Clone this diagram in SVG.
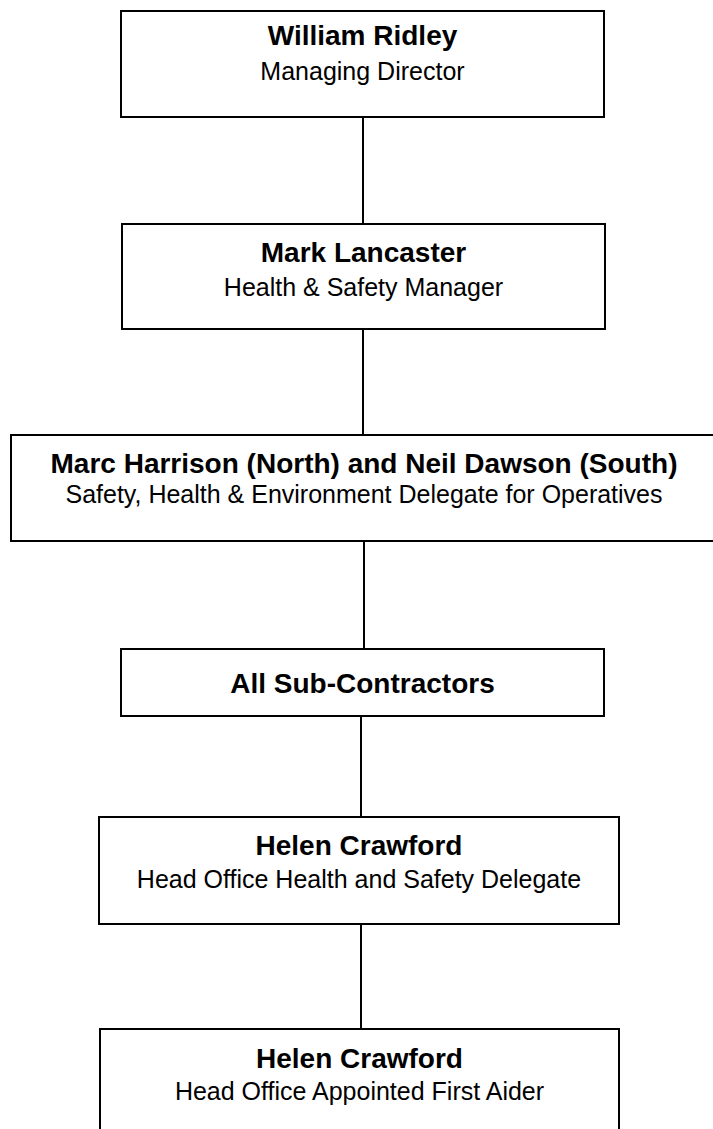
<svg xmlns="http://www.w3.org/2000/svg" width="713" height="1129" viewBox="0 0 713 1129">
<style>
.box{fill:#fff;stroke:#000;stroke-width:2}
.t{font-family:"Liberation Sans",Arial,sans-serif;font-weight:bold;font-size:28px;text-anchor:middle;fill:#000}
.s{font-family:"Liberation Sans",Arial,sans-serif;font-size:25px;text-anchor:middle;fill:#000}
.c{stroke:#000;stroke-width:2;fill:none}
</style>
<rect width="713" height="1129" fill="#fff"/>
<g id="connectors">
<line class="c" x1="363" y1="117" x2="363" y2="224"/>
<line class="c" x1="363" y1="329" x2="363" y2="435"/>
<line class="c" x1="364" y1="541" x2="364" y2="649"/>
<line class="c" x1="361" y1="716" x2="361" y2="817"/>
<line class="c" x1="361" y1="924" x2="361" y2="1029"/>
</g>
<g id="node-ridley">
<rect class="box" x="121" y="11" width="483" height="106"/>
<text class="t" x="362.5" y="45">William Ridley</text>
<text class="s" x="362.5" y="80">Managing Director</text>
</g>
<g id="node-lancaster">
<rect class="box" x="122" y="224" width="483" height="105"/>
<text class="t" x="363.5" y="262">Mark Lancaster</text>
<text class="s" x="363.5" y="296">Health &amp; Safety Manager</text>
</g>
<g id="node-harrison-dawson">
<rect class="box" x="11" y="435" width="706" height="106"/>
<text class="t" x="364" y="473">Marc Harrison (North) and Neil Dawson (South)</text>
<text class="s" x="364" y="503">Safety, Health &amp; Environment Delegate for Operatives</text>
</g>
<g id="node-subcontractors">
<rect class="box" x="121" y="649" width="483" height="67"/>
<text class="t" x="362.5" y="693">All Sub-Contractors</text>
</g>
<g id="node-crawford-delegate">
<rect class="box" x="99" y="817" width="520" height="107"/>
<text class="t" x="359" y="855">Helen Crawford</text>
<text class="s" x="359" y="888">Head Office Health and Safety Delegate</text>
</g>
<g id="node-crawford-firstaider">
<rect class="box" x="100" y="1029" width="519" height="110"/>
<text class="t" x="359.5" y="1068">Helen Crawford</text>
<text class="s" x="359.5" y="1100">Head Office Appointed First Aider</text>
</g>
</svg>
